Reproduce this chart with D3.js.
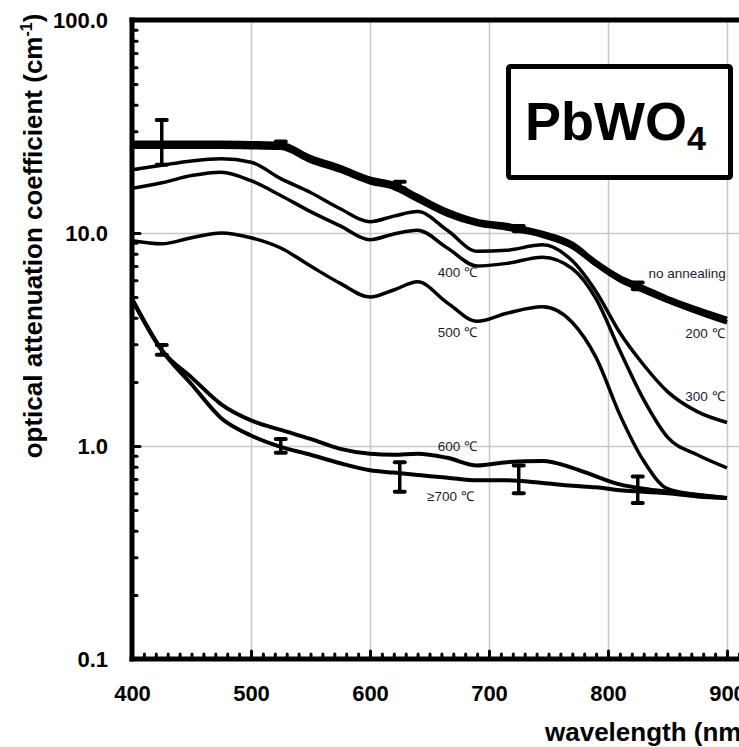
<!DOCTYPE html>
<html>
<head>
<meta charset="utf-8">
<script src="https://cdn.jsdelivr.net/npm/d3@7"></script>
<style>
  body { margin: 0; background: #fff; }
  svg { display: block; font-family: "Liberation Sans", Arial, sans-serif; }
</style>
</head>
<body>
<div id="chart"></div>
<script>
// wavelength grid (nm) shared by all curves
const wavelengths = [400, 425, 450, 475, 500, 525, 550, 575, 600, 620, 640, 665, 690, 715, 745, 770, 790, 810, 830, 850, 875, 900];

// attenuation coefficient (cm^-1)
const noAnnealing = [26.5, 26.5, 26.5, 26.5, 26.4, 26.2, 22.7, 20.4, 18.0, 17.0, 14.9, 12.7, 11.4, 10.9, 10.0, 8.9, 7.3, 6.2, 5.55, 4.95, 4.4, 3.95];
const anneal200 = [25.4, 25.4, 25.4, 25.4, 25.3, 25.1, 21.8, 19.6, 17.3, 16.3, 14.3, 12.2, 11.0, 10.5, 9.7, 8.6, 7.1, 6.0, 5.35, 4.8, 4.25, 3.8];
const anneal300 = [19.8, 20.8, 21.8, 22.3, 21.5, 18.0, 15.5, 13.0, 11.3, 12.0, 12.6, 10.3, 8.2, 8.3, 8.8, 7.4, 5.3, 3.4, 2.4, 1.8, 1.45, 1.29];
const anneal400 = [16.2, 17.2, 18.6, 19.3, 17.6, 15.0, 12.6, 10.8, 9.3, 9.9, 10.3, 8.5, 7.0, 7.2, 7.7, 6.8, 4.9, 2.8, 1.65, 1.1, 0.91, 0.79];
const anneal500 = [9.2, 8.9, 9.5, 10.0, 9.5, 8.5, 7.0, 5.8, 5.0, 5.4, 5.9, 4.7, 3.85, 4.2, 4.5, 3.8, 2.6, 1.4, 0.85, 0.63, 0.59, 0.57];
const anneal600 = [4.9, 2.82, 2.1, 1.57, 1.32, 1.19, 1.08, 0.97, 0.92, 0.91, 0.92, 0.88, 0.81, 0.84, 0.85, 0.79, 0.72, 0.66, 0.63, 0.61, 0.59, 0.57];
const anneal700 = [4.9, 2.82, 1.95, 1.35, 1.12, 0.99, 0.91, 0.83, 0.77, 0.75, 0.73, 0.71, 0.69, 0.69, 0.67, 0.65, 0.64, 0.62, 0.61, 0.60, 0.58, 0.57];

// error bars
const errWave = [425, 525, 625, 725, 825];
const upperErrLow = [20.9, 25.2, 16.2, 10.2, 5.45];
const upperErrHigh = [33.9, 26.9, 17.4, 10.8, 5.85];
const lowerErrLow = [2.68, 0.93, 0.61, 0.60, 0.54];
const lowerErrHigh = [2.98, 1.08, 0.84, 0.81, 0.72];

// axis ticks
const xMajorTicks = [400, 500, 600, 700, 800, 900];
const yMajorTicks = [0.1, 1, 10, 100];

// curve labels (wavelength, value at baseline)
const curveLabels = [
  { text: '400 ℃', w: 657, v: 6.2, anchor: 'start' },
  { text: '500 ℃', w: 657, v: 3.25, anchor: 'start' },
  { text: 'no annealing', w: 899, v: 6.15, anchor: 'end' },
  { text: '200 ℃', w: 898, v: 3.2, anchor: 'end' },
  { text: '300 ℃', w: 898, v: 1.63, anchor: 'end' },
  { text: '600 ℃', w: 657, v: 0.95, anchor: 'start' },
  { text: '≥700 ℃', w: 648, v: 0.55, anchor: 'start' }
];

const W = 739, H = 747;
const plot = { left: 132, top: 20, bottom: 659 };

const svg = d3.select('#chart').append('svg')
  .attr('width', W).attr('height', H);
svg.append('rect').attr('width', W).attr('height', H).attr('fill', '#fff');

const x = d3.scaleLinear().domain([400, 900]).range([plot.left, 727]);
const y = d3.scaleLog().domain([0.1, 100]).range([plot.bottom, plot.top]);

// light grid
const xGrid = svg.append('g').attr('transform', `translate(0,${plot.bottom})`)
  .call(d3.axisBottom(x).tickValues([500, 600, 700, 800, 900, 1000]).tickSize(-(plot.bottom - plot.top)).tickFormat(''));
xGrid.select('.domain').remove();
xGrid.selectAll('line').attr('stroke', '#c8c8c8').attr('stroke-width', 1.5);

const yGrid = svg.append('g').attr('transform', `translate(${plot.left},0)`)
  .call(d3.axisLeft(y).tickValues([1, 10]).tickSize(-(W - plot.left)).tickFormat(''));
yGrid.select('.domain').remove();
yGrid.selectAll('line').attr('stroke', '#c8c8c8').attr('stroke-width', 1.5);

// curves
const line = d3.line()
  .x((d, i) => x(wavelengths[i]))
  .y(d => y(d))
  .curve(d3.curveMonotoneX);

const series = [
  { values: anneal700, width: 4 },
  { values: anneal600, width: 4 },
  { values: anneal500, width: 3.5 },
  { values: anneal400, width: 3.5 },
  { values: anneal300, width: 3.5 },
  { values: anneal200, width: 4.5 },
  { values: noAnnealing, width: 4.5 }
];
svg.append('g').selectAll('path').data(series).join('path')
  .attr('d', d => line(d.values))
  .attr('fill', 'none')
  .attr('stroke', '#000')
  .attr('stroke-width', d => d.width)
  .attr('stroke-linejoin', 'round');

// error bars
function errorBars(lo, hi) {
  const g = svg.append('g');
  errWave.forEach((w, i) => {
    const cx = x(w);
    g.append('line').attr('x1', cx).attr('x2', cx).attr('y1', y(lo[i])).attr('y2', y(hi[i]))
      .attr('stroke', '#000').attr('stroke-width', 3.5);
    [lo[i], hi[i]].forEach(v => {
      g.append('line').attr('x1', cx - 5).attr('x2', cx + 5).attr('y1', y(v)).attr('y2', y(v))
        .attr('stroke', '#000').attr('stroke-width', 4).attr('stroke-linecap', 'round');
    });
  });
}
errorBars(upperErrLow, upperErrHigh);
errorBars(lowerErrLow, lowerErrHigh);

// minor ticks (inward)
const xMinor = d3.range(410, 1000, 10).filter(v => v % 100 !== 0);
const xTicks = svg.append('g').attr('transform', `translate(0,${plot.bottom})`)
  .call(d3.axisBottom(x).tickValues(xMinor).tickSize(-5).tickFormat(''));
xTicks.select('.domain').remove();
xTicks.selectAll('line').attr('stroke', '#000').attr('stroke-width', 3).attr('stroke-linecap', 'round');
const xTicksMajor = svg.append('g').attr('transform', `translate(0,${plot.bottom})`)
  .call(d3.axisBottom(x).tickValues([500, 600, 700, 800, 900, 1000]).tickSize(-8).tickFormat(''));
xTicksMajor.select('.domain').remove();
xTicksMajor.selectAll('line').attr('stroke', '#000').attr('stroke-width', 3).attr('stroke-linecap', 'round');

const yMinor = [];
[0.1, 1, 10].forEach(d => { for (let k = 2; k <= 9; k++) yMinor.push(d * k); });
const yTicks = svg.append('g').attr('transform', `translate(${plot.left},0)`)
  .call(d3.axisLeft(y).tickValues(yMinor).tickSize(-5).tickFormat(''));
yTicks.select('.domain').remove();
yTicks.selectAll('line').attr('stroke', '#000').attr('stroke-width', 3).attr('stroke-linecap', 'round');
const yTicksMajor = svg.append('g').attr('transform', `translate(${plot.left},0)`)
  .call(d3.axisLeft(y).tickValues([1, 10]).tickSize(-8).tickFormat(''));
yTicksMajor.select('.domain').remove();
yTicksMajor.selectAll('line').attr('stroke', '#000').attr('stroke-width', 3).attr('stroke-linecap', 'round');

// frame
const frame = svg.append('g').attr('stroke', '#000').attr('stroke-width', 5).attr('stroke-linecap', 'square');
frame.append('line').attr('x1', plot.left).attr('x2', W + 5).attr('y1', plot.top).attr('y2', plot.top);
frame.append('line').attr('x1', plot.left).attr('x2', W + 5).attr('y1', plot.bottom).attr('y2', plot.bottom);
frame.append('line').attr('x1', plot.left).attr('x2', plot.left).attr('y1', plot.top).attr('y2', plot.bottom);

// tick labels
const xLab = svg.append('g').attr('transform', `translate(0,${plot.bottom})`)
  .call(d3.axisBottom(x).tickValues(xMajorTicks).tickSize(0).tickPadding(26).tickFormat(d3.format('d')));
xLab.select('.domain').remove();
xLab.selectAll('text').attr('font-size', 22).attr('font-weight', 'bold').attr('fill', '#000')
  .attr('font-family', '"Liberation Sans", Arial, sans-serif');

const yLab = svg.append('g').attr('transform', `translate(${plot.left},0)`)
  .call(d3.axisLeft(y).tickValues(yMajorTicks).tickSize(0).tickPadding(24).tickFormat(d3.format('.1f')));
yLab.select('.domain').remove();
yLab.selectAll('text').attr('font-size', 22).attr('font-weight', 'bold').attr('fill', '#000')
  .attr('font-family', '"Liberation Sans", Arial, sans-serif');

// axis titles
svg.append('text')
  .attr('x', 545).attr('y', 741)
  .attr('font-size', 26).attr('font-weight', 'bold')
  .text('wavelength (nm)');

const yTitle = svg.append('text')
  .attr('transform', 'translate(42,236) rotate(-90)')
  .attr('text-anchor', 'middle')
  .attr('font-size', 26).attr('font-weight', 'bold');
yTitle.append('tspan').text('optical attenuation coefficient (cm');
yTitle.append('tspan').attr('font-size', 16).attr('dy', -10).text('-1');
yTitle.append('tspan').attr('dy', 10).text(')');

// curve labels
svg.append('g').selectAll('text').data(curveLabels).join('text')
  .attr('x', d => x(d.w))
  .attr('y', d => y(d.v))
  .attr('font-size', 13.5)
  .attr('fill', '#1c1c30')
  .attr('text-anchor', d => d.anchor)
  .text(d => d.text);

// PbWO4 box
svg.append('rect')
  .attr('x', 508.5).attr('y', 66.5).attr('width', 222).attr('height', 111)
  .attr('fill', '#fff').attr('stroke', '#000').attr('stroke-width', 5).attr('rx', 2);
const pb = svg.append('text').attr('x', 525).attr('y', 140)
  .attr('font-size', 54).attr('font-weight', 'bold');
pb.append('tspan').text('PbWO');
pb.append('tspan').attr('font-size', 34).attr('dy', 10).text('4');
</script>
</body>
</html>
